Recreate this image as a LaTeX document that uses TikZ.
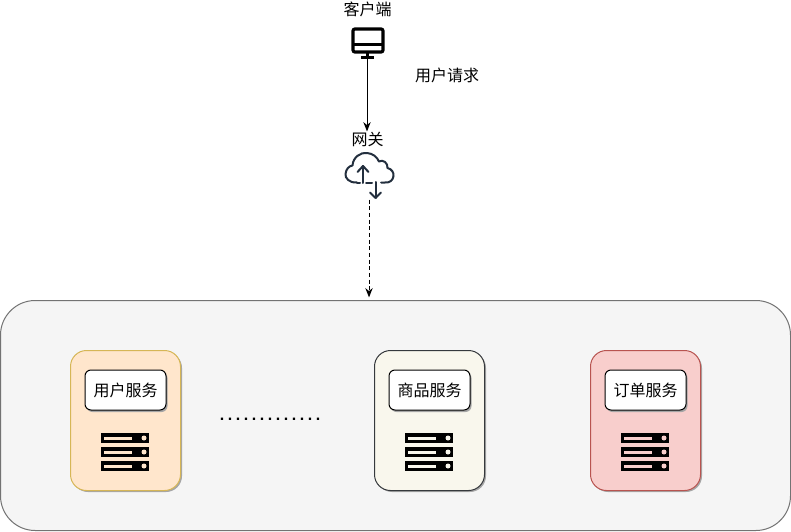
\documentclass[tikz,border=0pt]{standalone}
\usepackage{fontspec}
\setmainfont{Noto Sans CJK SC}
\newfontfamily\dotfont{Liberation Sans}
\newcommand{\onedot}{\makebox[6pt]{.}}
\usetikzlibrary{arrows.meta,calc}
\definecolor{iconblue}{HTML}{232F3E}
\definecolor{fillUser}{HTML}{FFE6CC}
\definecolor{lineUser}{HTML}{D6B656}
\definecolor{fillGoods}{HTML}{F9F7ED}
\definecolor{lineGoods}{HTML}{36393D}
\definecolor{fillOrder}{HTML}{F8CECC}
\definecolor{lineOrder}{HTML}{B85450}
\tikzset{
  x=0.75pt,y=-0.75pt,
  label text/.style={font=\fontsize{12pt}{14pt}\selectfont,inner sep=0pt,text=black},
  panel/.style={draw=black!55,fill=black!4,line width=0.75pt,rounded corners=26pt},
  card/.style={draw,line width=0.75pt,rounded corners=12pt,minimum width=82.5pt,minimum height=105pt,inner sep=0pt},
  cardshadow/.style={fill=black!35,draw=none,rounded corners=12pt,minimum width=82.5pt,minimum height=105pt,inner sep=0pt},
  namebox/.style={draw=black,fill=white,line width=0.75pt,rounded corners=4.5pt,minimum width=60.75pt,minimum height=30pt,inner sep=0pt,font=\fontsize{12pt}{14pt}\selectfont},
  nameshadow/.style={fill=black!35,draw=none,rounded corners=4.5pt,minimum width=60.75pt,minimum height=30pt,inner sep=0pt},
  flow/.style={draw=black,line width=0.75pt,-{Stealth[length=7pt,width=5.5pt]}},
  anchorbox/.style={inner sep=0pt,minimum width=0.5pt,minimum height=0.5pt},
  pics/rack/.style={code={
    \foreach \yy in {0,14,28}{
      \fill[black] (-24,\yy-5) rectangle (24,\yy+5);
      \fill[#1] (-21,\yy-1.5) rectangle (7,\yy+1.5);
      \fill[#1] (19,\yy) circle[radius=2.5];
    }
  }}
}
\begin{document}
\begin{tikzpicture}
\useasboundingbox (0,0) rectangle (791,531);
\fill[white] (0,0) rectangle (791,531);
% panel
\draw[panel] (0.5,300.5) rectangle (790.5,530.5);
\node[anchorbox] (panelTop) at (369,298) {};
% labels
\node[label text] (clientLabel) at (367.5,9) {客户端};
\node[label text] (reqLabel) at (447,75) {用户请求};
\node[label text] (gwLabel) at (367.5,139) {网关};
% client icon
\node[anchorbox] (client) at (367,58) {};
\draw[black,line width=2.4pt,rounded corners=1.5pt] (353,29) rectangle (383,52);
\draw[black,line width=1.8pt] (353,44.5) -- (383,44.5);
\draw[black,line width=1.8pt] (367.5,52) -- (367.5,57);
\draw[black,line width=1.8pt] (361,57.5) -- (374,57.5);
% gateway icon
\begin{scope}[draw=iconblue,line width=1.5pt,line cap=round,line join=round]
\draw (357,182.5) .. controls (349,183) and (345,178) .. (345.5,174) .. controls (346,169) and (349,166) .. (352.5,165.5) .. controls (353,157) and (361,152) .. (367,153) .. controls (373,153.5) and (377,157) .. (379,161.5) .. controls (383,159) and (388,163) .. (387.5,168) .. controls (392,169) and (394,173) .. (393.5,176) .. controls (393,180) and (390,183) .. (385,182.5) -- (381,182.5);
\draw (357,182.5) -- (360,182.5);
\draw (366,182.5) -- (372,182.5);
\draw (363,183) -- (363,166);
\draw (357.5,172) -- (363,166) -- (368.5,172);
\draw (375.5,182) -- (375.5,198);
\draw (370,192.5) -- (375.5,198) -- (381,192.5);
\end{scope}
\node[anchorbox] (gwOut) at (369,199) {};
% connectors
\path[flow] (client) -- (client |- gwLabel.north);
\path[flow,dash pattern=on 3pt off 2pt] (gwOut) -- (panelTop);
% user card
\node[cardshadow] at (127,422) {};
\node[card,draw=lineUser,fill=fillUser] (userCard) at (125.5,420.5) {};
\node[nameshadow] at (127,392) {};
\node[namebox] (userName) at (125.5,390) {用户服务};
\pic at (125,438) {rack=fillUser};
% goods card
\node[cardshadow] at (431,422) {};
\node[card,draw=lineGoods,fill=fillGoods] (goodsCard) at (429.5,420.5) {};
\node[nameshadow] at (431,392) {};
\node[namebox] (goodsName) at (429.5,390) {商品服务};
\pic at (429,438) {rack=fillGoods};
% order card
\node[cardshadow] at (647,422) {};
\node[card,draw=lineOrder,fill=fillOrder] (orderCard) at (645.5,420.5) {};
\node[nameshadow] at (647,392) {};
\node[namebox] (orderName) at (645.5,390) {订单服务};
\pic at (645,438) {rack=fillOrder};
% dots
\node[inner sep=0pt,font=\dotfont\bfseries\fontsize{12pt}{14pt}\selectfont] (dots) at (270,419) {\onedot\onedot\onedot\onedot\onedot\onedot\onedot\onedot\onedot\onedot\onedot\onedot\onedot};
\end{tikzpicture}
\end{document}
